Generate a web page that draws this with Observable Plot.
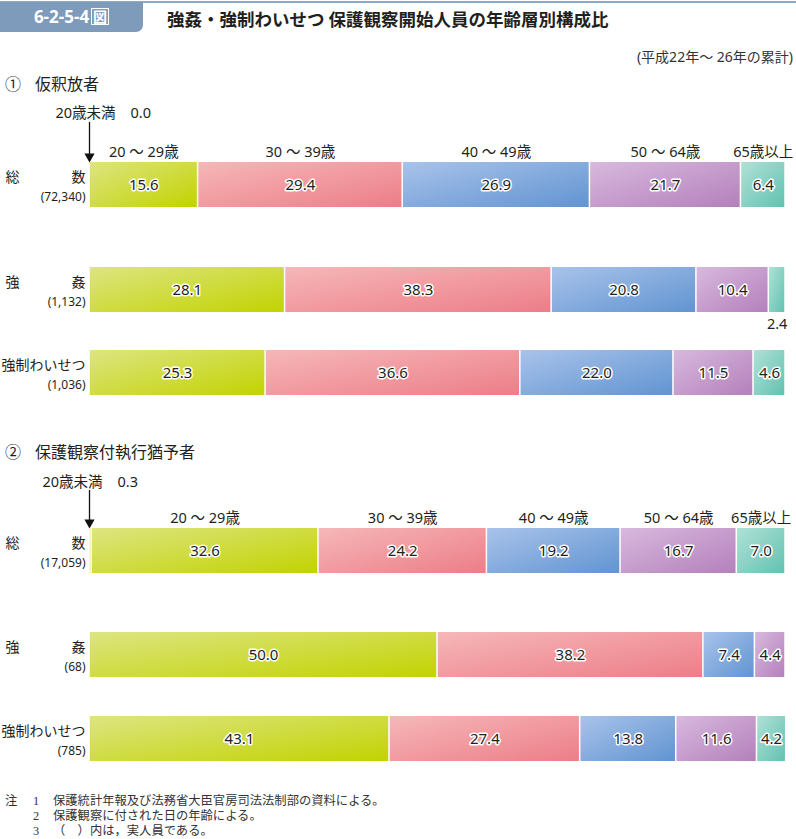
<!DOCTYPE html>
<html><head><meta charset="utf-8">
<script src="https://cdn.jsdelivr.net/npm/d3@7"></script>
<script src="https://cdn.jsdelivr.net/npm/@observablehq/plot@0.6"></script>
<style>
body{margin:0;width:796px;height:839px;position:relative;overflow:hidden;background:#fff;font-family:"Noto Sans","Noto Sans CJK JP",sans-serif;color:#231f20}
.abs{position:absolute;white-space:nowrap}
.topline{left:0;top:1px;width:796px;height:2px;background:#8fa8c4}
.badge{left:0;top:2px;width:143px;height:30px;background:#7f9bbb;border-bottom-right-radius:7px;color:#fff;font-weight:700;font-size:17px;line-height:30px;text-align:center}
.badge span{display:inline-block;border:1.5px solid #fff;line-height:15px;font-size:14px;padding:0 1px;margin-left:2px;vertical-align:1px;font-family:"Noto Sans CJK JP"}
.title{left:167px;top:7px;font-size:17.5px;font-weight:700;line-height:24px;font-family:"Noto Sans CJK JP"}
.sub{right:3px;top:47px;font-size:14px;line-height:20px;color:#333}
.sec{left:5px;font-size:16px;line-height:22px;font-family:"Noto Sans CJK JP"}
.sec b{font-weight:400;display:inline-block;width:30px}
.note{font-size:12.3px;line-height:13px;height:13px;color:#333;font-family:"Liberation Serif","Noto Sans CJK JP",serif}
</style></head><body>
<svg width="0" height="0" style="position:absolute">
  <defs id="grads"></defs>
</svg>
<div class="abs topline"></div>
<div class="abs badge">6-2-5-4<span>図</span></div>
<div class="abs title">強姦・強制わいせつ 保護観察開始人員の年齢層別構成比</div>
<div class="abs sub">(平成22年～ 26年の累計)</div>
<div id="root"></div>
<script>
// ---- data ----
const ageGroups = ["20歳未満", "20 ～ 29歳", "30 ～ 39歳", "40 ～ 49歳", "50 ～ 64歳", "65歳以上"];
const rowNames = ["総数", "強姦", "強制わいせつ"];
const sectionTitles = ["①", "仮釈放者", "②", "保護観察付執行猶予者"];

const parolCounts = ["(72,340)", "(1,132)", "(1,036)"];
const parolTotal    = [0.0, 15.6, 29.4, 26.9, 21.7, 6.4];
const parolRape     = [0.0, 28.1, 38.3, 20.8, 10.4, 2.4];
const parolIndecent = [0.0, 25.3, 36.6, 22.0, 11.5, 4.6];

const probCounts = ["(17,059)", "(68)", "(785)"];
const probTotal    = [0.3, 32.6, 24.2, 19.2, 16.7, 7.0];
const probRape     = [0.0, 50.0, 38.2, 7.4, 4.4, 0.0];
const probIndecent = [0.0, 43.1, 27.4, 13.8, 11.6, 4.2];

const notes = [
  ["注", "1", "保護統計年報及び法務省大臣官房司法法制部の資料による。"],
  ["", "2", "保護観察に付された日の年齢による。"],
  ["", "3", "（　）内は，実人員である。"]
];

// ---- styles ----
const gradColors = [
  ["#f3e35a", "#eed63a"],
  ["#dde581", "#c2d300"],
  ["#f6b7b8", "#ed7d88"],
  ["#a9c3ea", "#6194d1"],
  ["#d8b9dd", "#b480bc"],
  ["#b0e1d6", "#62c2b1"]
];
const defs = document.getElementById("grads");
defs.innerHTML = gradColors.map((c, i) =>
  `<linearGradient id="g${i}" x1="0" y1="0" x2="1" y2="1">
     <stop offset="0" stop-color="${c[0]}"/><stop offset="1" stop-color="${c[1]}"/>
   </linearGradient>`).join("");

const root = document.getElementById("root");
function place(el, top) {
  const w = document.createElement("div");
  w.className = "abs";
  w.style.left = "0px";
  w.style.top = top + "px";
  w.appendChild(el);
  root.appendChild(w);
}

const BH = 45, MT = 80, MB = 30;
const INK = "#231f20";

function rowPlot(values, name, count, opt) {
  const data = ageGroups.map((age, i) => ({age, i, value: values[i], row: name}));
  const half = BH / 2;
  const marks = [
    Plot.barX(data, Plot.stackX({x: "value", y: "row", fill: "age", insetLeft: 0.75, insetRight: 0.75})),
    Plot.text(data, Plot.stackX({
      x: "value", y: "row",
      text: d => d.value >= 4 ? d.value.toFixed(1) : "",
      fontSize: 15, fill: INK, stroke: "white", strokeWidth: 3, paintOrder: "stroke"
    })),
    Plot.text(data, Plot.stackX({
      x: "value", y: "row",
      text: d => d.i > 0 && d.value > 0 && d.value < 4 ? d.value.toFixed(1) : "",
      dy: half + 12, fontSize: 14.5, fill: INK
    }))
  ];
  // row labels
  if (name.length === 2) {
    marks.push(Plot.text([name], {y: d => d, text: d => d[0], frameAnchor: "left", textAnchor: "start", dx: -84, dy: -7, fontSize: 14, fill: INK}));
    marks.push(Plot.text([name], {y: d => d, text: d => d[1], frameAnchor: "left", textAnchor: "end", dx: -4, dy: -7, fontSize: 14, fill: INK}));
  } else {
    marks.push(Plot.text([name], {y: d => d, text: d => d, frameAnchor: "left", textAnchor: "end", dx: -4, dy: -7, fontSize: 14, fill: INK}));
  }
  marks.push(Plot.text([count], {y: () => name, text: d => d, frameAnchor: "left", textAnchor: "end", dx: -4, dy: 12, fontSize: 12, fill: INK}));

  if (opt.head) {
    // age group labels
    marks.push(Plot.text(data, Plot.stackX({
      x: "value", y: "row",
      text: d => d.i > 0 ? d.age : "",
      dy: -(half + 10), fontSize: 14.5, fill: INK
    })));
    // under-20 annotation
    marks.push(Plot.text([ageGroups[0]], {y: () => name, text: d => d, frameAnchor: "left", textAnchor: "end", dx: opt.labDx, dy: opt.labDy, fontSize: 14.5, fill: INK}));
    marks.push(Plot.text([values[0]], {y: () => name, text: d => d.toFixed(1), frameAnchor: "left", textAnchor: "start", dx: opt.labDx + 15, dy: opt.labDy, fontSize: 14.5, fill: INK}));
    marks.push(Plot.ruleX([0], {x: d => d, insetTop: opt.arrowTop, insetBottom: BH + 8, stroke: "#111", strokeWidth: 1.3}));
    marks.push(Plot.dot([0], {x: d => d, y: () => name, symbol: "triangle", rotate: 180, r: 3.8, fill: "#111", stroke: "none", dy: -(half + 6)}));
  }

  return Plot.plot({
    width: 796, height: MT + BH + MB,
    marginLeft: 89, marginRight: 11, marginTop: MT, marginBottom: MB,
    style: {background: "transparent", overflow: "visible", fontFamily: '"Noto Sans", "Noto Sans CJK JP", sans-serif'},
    x: {domain: [0, 100], axis: null},
    y: {domain: [name], axis: null, padding: 0},
    color: {domain: ageGroups, range: ageGroups.map((_, i) => `url(#g${i})`)},
    marks
  });
}

function section(titleIdx, top) {
  const d = document.createElement("div");
  d.className = "abs sec";
  d.style.top = top + "px";
  d.innerHTML = `<b>${sectionTitles[titleIdx]}</b>${sectionTitles[titleIdx + 1]}`;
  root.appendChild(d);
}

// section 1
section(0, 72);
const s1 = [parolTotal, parolRape, parolIndecent];
const s1Tops = [162, 267, 350];
s1.forEach((vals, k) => place(rowPlot(vals, rowNames[k], parolCounts[k],
  k === 0 ? {head: true, labDx: 26, labDy: -71.5, arrowTop: -40} : {}), s1Tops[k] - MT));

// section 2
section(2, 440);
const s2 = [probTotal, probRape, probIndecent];
const s2Tops = [528, 632, 716];
s2.forEach((vals, k) => place(rowPlot(vals, rowNames[k], probCounts[k],
  k === 0 ? {head: true, labDx: 13, labDy: -69, arrowTop: -38} : {}), s2Tops[k] - MT));

// notes
notes.forEach((n, k) => {
  const top = 795 + k * 15;
  [[n[0], 5], [n[1], 33], [n[2], 53]].forEach(([t, x]) => {
    if (!t) return;
    const e = document.createElement("div");
    e.className = "abs note";
    e.style.left = x + "px";
    e.style.top = top + "px";
    e.textContent = t;
    root.appendChild(e);
  });
});
</script>
</body></html>
